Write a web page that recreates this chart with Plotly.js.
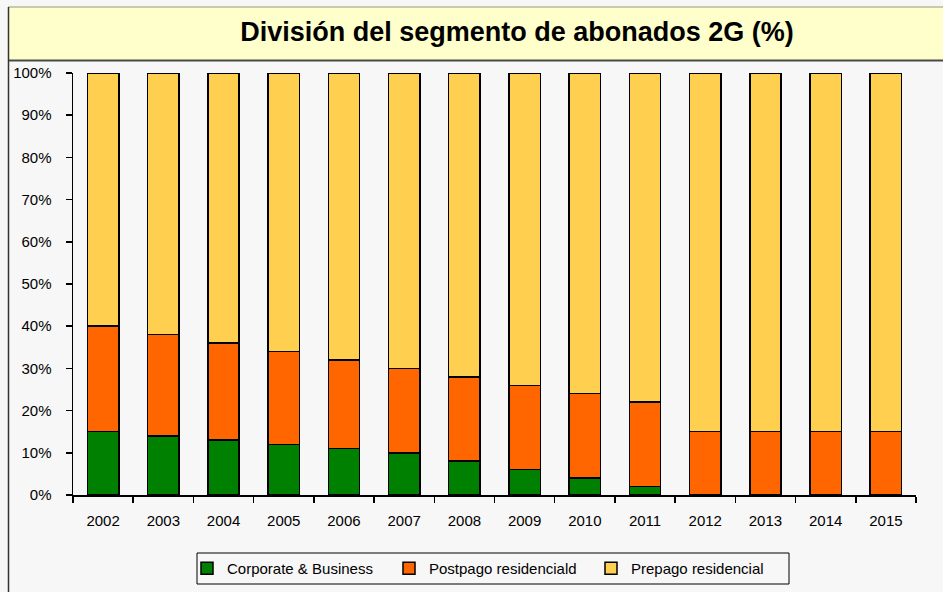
<!DOCTYPE html>
<html>
<head>
<meta charset="utf-8">
<script src="https://cdn.plot.ly/plotly-3.0.1.min.js"></script>
<style>
  html, body { margin: 0; padding: 0; background: #F7F7F7; }
  #chart { width: 943px; height: 592px; }
</style>
</head>
<body>
<div id="chart"></div>
<script>
const years = ['2002','2003','2004','2005','2006','2007','2008','2009','2010','2011','2012','2013','2014','2015'];
const corporate = [15, 14, 13, 12, 11, 10, 8, 6, 4, 2, 0, 0, 0, 0];
const postpago  = [25, 24, 23, 22, 21, 20, 20, 20, 20, 20, 15, 15, 15, 15];
const prepago   = [60, 62, 64, 66, 68, 70, 72, 74, 76, 78, 85, 85, 85, 85];
const yTickVals = [0, 10, 20, 30, 40, 50, 60, 70, 80, 90, 100];
const yTickText = ['0%', '10%', '20%', '30%', '40%', '50%', '60%', '70%', '80%', '90%', '100%'];

const FONT = 'Liberation Sans, Arial, sans-serif';
const W = 943, H = 592;
const mL = 73, mR = 27, mT = 73, mB = 97;
const pw = W - mL - mR, ph = H - mT - mB;
const px = v => (v - mL) / pw;
const py = v => (H - mB - v) / ph;

const line = {color: '#000000', width: 1.5};
const traces = [
  {type: 'bar', name: 'Corporate & Business', x: years, y: corporate,
   marker: {color: '#008000', line: line}},
  {type: 'bar', name: 'Postpago residenciald', x: years, y: postpago,
   marker: {color: '#FF6600', line: line}},
  {type: 'bar', name: 'Prepago residencial', x: years, y: prepago,
   marker: {color: '#FFD050', line: line}}
];

const layout = {
  width: W, height: H,
  margin: {l: mL, r: mR, t: mT, b: mB, pad: 0, autoexpand: false},
  paper_bgcolor: '#F7F7F7',
  plot_bgcolor: '#F7F7F7',
  barmode: 'stack',
  bargap: 0.48,
  showlegend: true,
  font: {family: FONT, size: 15, color: '#000'},
  title: {
    text: '<b>División del segmento de abonados 2G (%)</b>',
    font: {family: FONT, size: 27, color: '#000'},
    x: 517 / W, xref: 'container', xanchor: 'center',
    y: 1 - 32 / H, yref: 'container', yanchor: 'middle'
  },
  xaxis: {
    type: 'category',
    showgrid: false, zeroline: false,
    showline: true, linecolor: '#000', linewidth: 1.5,
    ticks: 'outside', tickson: 'boundaries', ticklen: 6, tickcolor: '#000', tickwidth: 1.5,
    ticklabelstandoff: 11,
    tickfont: {family: FONT, size: 15, color: '#000'},
    fixedrange: true
  },
  yaxis: {
    range: [0, 100],
    tickvals: yTickVals, ticktext: yTickText,
    showgrid: false, zeroline: false,
    showline: true, linecolor: '#000', linewidth: 1.5,
    ticks: 'outside', ticklen: 6, tickcolor: '#000', tickwidth: 1.5,
    ticklabelstandoff: 11,
    tickfont: {family: FONT, size: 15, color: '#000'},
    fixedrange: true
  },
  legend: {
    orientation: 'h',
    x: px(187), xanchor: 'left',
    y: py(568.5), yanchor: 'middle',
    bgcolor: 'rgba(0,0,0,0)',
    borderwidth: 0,
    font: {family: FONT, size: 15, color: '#000'},
    traceorder: 'normal',
    entrywidth: 157,
    itemwidth: 30
  },
  shapes: [
    {type: 'rect', xref: 'paper', yref: 'paper', layer: 'below',
     x0: px(8), x1: px(946), y0: py(60), y1: py(7),
     fillcolor: '#FFFFCC', line: {width: 0}},
    {type: 'line', xref: 'paper', yref: 'paper',
     x0: px(8), x1: px(946), y0: py(7), y1: py(7),
     line: {color: '#B8B89A', width: 1.5}},
    {type: 'line', xref: 'paper', yref: 'paper',
     x0: px(8), x1: px(946), y0: py(60.5), y1: py(60.5),
     line: {color: '#4A4A4A', width: 2}},
    {type: 'line', xref: 'paper', yref: 'paper',
     x0: px(8.5), x1: px(8.5), y0: py(7), y1: py(594),
     line: {color: '#333333', width: 1.5}},
    {type: 'rect', xref: 'paper', yref: 'paper', layer: 'below',
     x0: px(197), x1: px(789), y0: py(584), y1: py(553),
     fillcolor: 'rgba(0,0,0,0)', line: {color: '#000', width: 1}}
  ]
};

Plotly.newPlot('chart', traces, layout, {displayModeBar: false, staticPlot: true});
</script>
</body>
</html>
